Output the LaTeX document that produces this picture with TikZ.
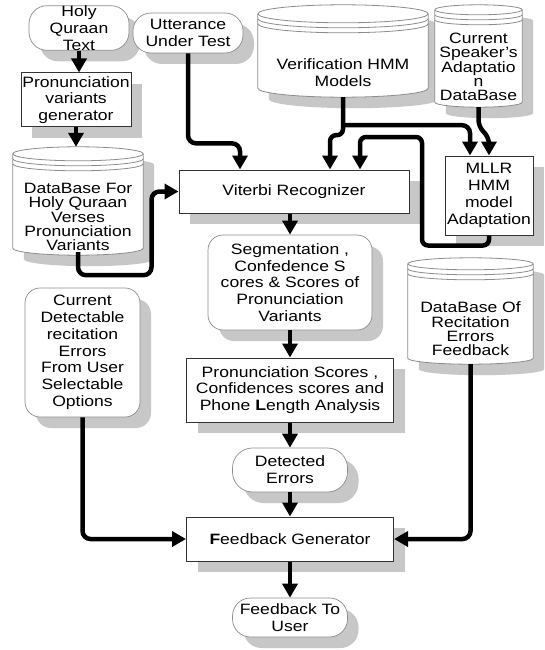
\documentclass[tikz,border=0pt]{standalone}
\usepackage{fontspec}
\setmainfont{Liberation Sans}[FakeStretch=1.17]
\usetikzlibrary{arrows.meta,shadows,calc}
\pgfdeclarelayer{bglayer}
\pgfdeclarelayer{shadowlayer}
\pgfdeclarelayer{bodylayer}
\pgfsetlayers{bglayer,shadowlayer,bodylayer,main}
\definecolor{shadowcol}{gray}{0.78}
\definecolor{softline}{gray}{0.55}
\definecolor{boxline}{gray}{0.2}

\tikzset{
  txt/.style={font=\fontsize{15}{16.8}\selectfont, align=center, inner sep=0pt},
  cyltxt/.style={font=\fontsize{15}{14.4}\selectfont, align=center, inner sep=0pt},
  rectbox/.style={txt, draw=boxline, line width=1pt, fill=white,
    drop shadow={shadow xshift=11pt, shadow yshift=-11pt, fill=shadowcol, opacity=1}},
  roundbox/.style={rectbox, draw=softline, line width=0.7pt, rounded corners=#1},
  roundbox/.default=14pt,
  cylnode/.style={draw=none, inner sep=0pt},
  flow/.style={line width=4.5pt, rounded corners=8pt, -{Triangle[length=14pt,width=15pt]}},
}

\newcommand\cylshape[2]{%
  \begin{pgfonlayer}{shadowlayer}
    \fill[shadowcol] let \p1=(#1.north west), \p2=(#1.south east), \n1={(\x2-\x1)/2} in
      (\x1+11pt,\y1-#2pt-11pt) -- (\x1+11pt,\y2+#2pt-11pt)
      arc[start angle=180,end angle=360,x radius=\n1,y radius=#2pt]
      -- (\x2+11pt,\y1-#2pt-11pt)
      arc[start angle=0,end angle=180,x radius=\n1,y radius=#2pt] -- cycle;
  \end{pgfonlayer}
  \begin{pgfonlayer}{bodylayer}
    \filldraw[fill=white, draw=softline, line width=0.8pt] let \p1=(#1.north west), \p2=(#1.south east), \n1={(\x2-\x1)/2} in
      (\x1,\y1-#2pt) -- (\x1,\y2+#2pt)
      arc[start angle=180,end angle=360,x radius=\n1,y radius=#2pt]
      -- (\x2,\y1-#2pt)
      arc[start angle=0,end angle=180,x radius=\n1,y radius=#2pt] -- cycle;
    \draw[softline, line width=0.8pt] let \p1=(#1.north west), \p2=(#1.south east), \n1={(\x2-\x1)/2} in
      (\x1,\y1-#2pt) arc[start angle=180,end angle=360,x radius=\n1,y radius=#2pt]
      (\x1,\y1-#2pt-5pt) arc[start angle=180,end angle=360,x radius=\n1,y radius=#2pt]
      (\x1,\y1-#2pt-10pt) arc[start angle=180,end angle=360,x radius=\n1,y radius=#2pt];
  \end{pgfonlayer}
}

\begin{document}
\begin{tikzpicture}[x=1pt,y=1pt]
\useasboundingbox (0,0) rectangle (545,-650);
\begin{pgfonlayer}{bglayer}
\fill[white] (0,0) rectangle (545,-650);
\end{pgfonlayer}

% top row
\node[roundbox=18pt, minimum width=100pt, minimum height=38pt] (holy) at (79,-28) {Holy\\Quraan\\Text};
\node[roundbox=18pt, minimum width=110pt, minimum height=40pt] (utter) at (188,-33) {Utterance\\Under Test};

\node[cylnode, minimum width=170pt, minimum height=92pt] (vhmm) at (343,-51) {};
\cylshape{vhmm}{9}
\node[txt] (vhmmtxt) at (343,-73) {Verification HMM\\Models};

\node[cylnode, minimum width=87pt, minimum height=102pt] (spkdb) at (478.5,-56) {};
\cylshape{spkdb}{5}
\node[cyltxt] (spkdbtxt) at (478.5,-67) {Current\\Speaker's\\Adaptatio\\n\\DataBase};

% left column
\node[rectbox, minimum width=110pt, minimum height=54pt] (prongen) at (76,-100) {Pronunciation\\variants\\generator};

\node[cylnode, minimum width=130pt, minimum height=108pt] (dbholy) at (78,-201) {};
\cylshape{dbholy}{7}
\node[cyltxt] (dbholytxt) at (78,-217) {DataBase For\\Holy Quraan\\Verses\\Pronunciation\\Variants};

\node[roundbox=15pt, minimum width=115pt, minimum height=129pt] (curdet) at (82.5,-352.5) {Current\\Detectable\\recitation\\Errors\\From User\\Selectable\\Options};

% centre column
\node[rectbox, minimum width=230pt, minimum height=43pt] (viterbi) at (294,-191.5) {Viterbi Recognizer};
\node[roundbox=15pt, minimum width=164pt, minimum height=95pt] (seg) at (290,-282.5) {Segmentation ,\\Confedence S\\cores \& Scores of\\Pronunciation\\Variants};
\node[rectbox, minimum width=207pt, minimum height=64pt] (pscore) at (290,-390) {Pronunciation Scores ,\\Confidences scores and\\Phone \textbf{L}ength Analysis};
\node[roundbox=20pt, minimum width=115pt, minimum height=44pt] (det) at (290,-470) {Detected\\Errors};
\node[rectbox, minimum width=207pt, minimum height=44pt] (fbgen) at (290,-539) {\textbf{F}eedback Generator};
\node[roundbox=18pt, minimum width=115pt, minimum height=39pt] (fbuser) at (290,-617.5) {Feedback To\\User};

% right column
\node[rectbox, minimum width=88pt, minimum height=79pt] (mllr) at (489,-195.5) {MLLR\\HMM\\model\\Adaptation};

\node[cylnode, minimum width=125pt, minimum height=106pt] (dberr) at (470.5,-311) {};
\cylshape{dberr}{6}
\node[cyltxt] (dberrtxt) at (470.5,-329) {DataBase Of\\Recitation\\Errors\\Feedback};

% connectors
\draw[flow] (holy.south) -- (holy.south |- prongen.north);
\draw[flow] (prongen.south) -- (prongen.south |- dbholy.north);
\draw[flow] (utter.south) -- ++(0,-90) -| ([xshift=-54pt]viterbi.north);
\draw[flow] ([yshift=3pt]dbholy.south) -- ++(0,-23) -| ([xshift=-27pt]viterbi.west) -- (viterbi.west);
\draw[flow, rounded corners=6pt] (vhmm.south) -- ++(0,-38) -| ([xshift=36pt]viterbi.north);
\draw[flow] ([yshift=-28pt]vhmm.south) -| ([xshift=-19pt]mllr.north);
\draw[flow, rounded corners=6pt] (mllr.south) -- ++(0,-10) -| (422,-137) -| ([xshift=66pt]viterbi.north);
\draw[flow, rounded corners=6pt] (spkdb.south) -- (478.5,-126) -- (489,-138) -- (mllr.north);
\draw[flow] (seg.north |- viterbi.south) -- (seg.north);
\draw[flow] (seg.south) -- (pscore.north);
\draw[flow] (pscore.south) -- (det.north);
\draw[flow] (det.south) -- (fbgen.north);
\draw[flow] (fbgen.south) -- (fbuser.north);
\draw[flow] (curdet.south) |- (fbgen.west);
\draw[flow] (dberr.south) |- (fbgen.east);
\end{tikzpicture}
\end{document}
